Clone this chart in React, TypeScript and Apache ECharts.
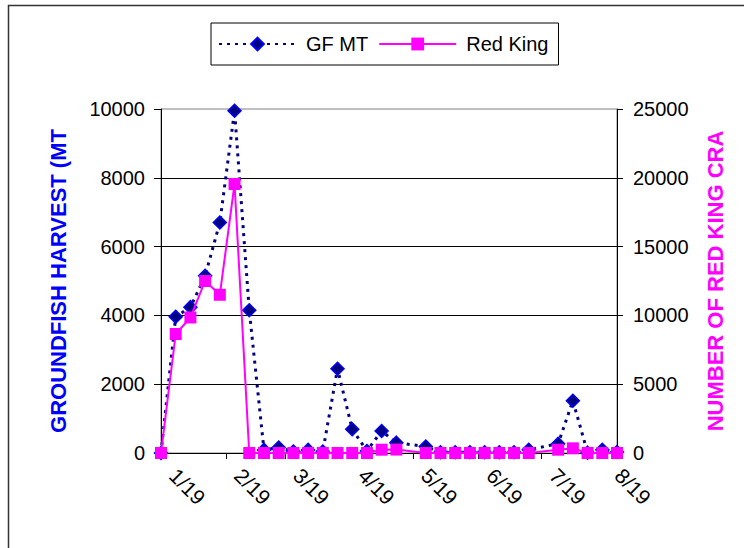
import React, { useEffect, useRef } from "react";
import * as echarts from "echarts";

// Weekly observation dates
const dates = [
  "2019-01-01", "2019-01-08", "2019-01-15", "2019-01-22", "2019-01-29",
  "2019-02-05", "2019-02-12", "2019-02-19", "2019-02-26", "2019-03-05",
  "2019-03-12", "2019-03-19", "2019-03-26", "2019-04-02", "2019-04-09",
  "2019-04-16", "2019-04-23", "2019-05-07", "2019-05-14", "2019-05-21",
  "2019-05-28", "2019-06-04", "2019-06-11", "2019-06-18", "2019-06-25",
  "2019-07-09", "2019-07-16", "2019-07-23", "2019-07-30", "2019-08-06",
];

// Groundfish harvest (MT) – left axis
const gfMt = [
  0, 3960, 4240, 5150, 6700,
  9950, 4150, 90, 160, 45,
  90, 45, 2450, 690, 60,
  640, 300, 190, 20, 20,
  20, 20, 20, 20, 95,
  270, 1520, 10, 95, 30,
];

// Number of red king crab – right axis
const redKing = [
  0, 8650, 9850, 12500, 11500,
  19550, 0, 0, 0, 0,
  0, 0, 0, 0, 0,
  240, 250, 0, 0, 0,
  0, 0, 0, 0, 0,
  240, 340, 0, 0, 0,
];

const tickDates = [
  "2019-01-01", "2019-02-01", "2019-03-01", "2019-04-01",
  "2019-05-01", "2019-06-01", "2019-07-01", "2019-08-01",
];
const tickLabels = ["1/19", "2/19", "3/19", "4/19", "5/19", "6/19", "7/19", "8/19"];

const FONT = "'Liberation Sans', Arial, sans-serif";

const dayOf = (s: string) =>
  Math.round((Date.parse(s + "T00:00:00Z") - Date.parse(dates[0] + "T00:00:00Z")) / 86400000);

export default function App() {
  const ref = useRef<HTMLDivElement>(null);

  useEffect(() => {
    if (!ref.current) return;
    const chart = echarts.init(ref.current, null, { renderer: "svg" });
    const tickDays = tickDates.map(dayOf);
    const xDays = dates.map(dayOf);

    chart.setOption({
      animation: false,
      backgroundColor: "#ffffff",
      textStyle: { fontFamily: FONT },
      graphic: [
        {
          type: "rect",
          silent: true,
          z: -10,
          shape: { x: 8.5, y: 5.5, width: 800, height: 600 },
          style: { fill: "none", stroke: "#333333", lineWidth: 1.5 },
        },
      ],
      legend: {
        left: 211,
        top: 23,
        padding: [11, 10, 11, 7],
        borderColor: "#000000",
        borderWidth: 1,
        itemWidth: 77,
        itemHeight: 16,
        itemGap: 10,
        textStyle: { fontSize: 20, color: "#000000", fontFamily: FONT, padding: [0, 0, 0, 5] },
        data: ["GF MT", "Red King"],
      },
      grid: {
        left: 161,
        right: 127,
        top: 109,
        bottom: 95,
        containLabel: false,
        show: true,
        borderColor: "#808080",
        borderWidth: 1,
        backgroundColor: "transparent",
      },
      xAxis: {
        type: "value",
        min: 0,
        max: xDays[xDays.length - 1],
        splitLine: { show: false },
        axisLine: { show: true, onZero: false, lineStyle: { color: "#000000", width: 1 } },
        axisTick: {
          show: true,
          customValues: tickDays,
          length: 6,
          lineStyle: { color: "#000000" },
        },
        axisLabel: {
          customValues: tickDays,
          rotate: -45,
          margin: 7,
          padding: [0, 0, 0, 17],
          fontSize: 21,
          color: "#000000",
          fontFamily: FONT,
          formatter: (v: number) => {
            const i = tickDays.indexOf(v);
            return i >= 0 ? tickLabels[i] : "";
          },
        },
      },
      yAxis: [
        {
          type: "value",
          position: "left",
          min: 0,
          max: 10000,
          interval: 2000,
          name: "GROUNDFISH HARVEST (MT",
          nameLocation: "middle",
          nameRotate: 90,
          nameGap: 92,
          nameTextStyle: { color: "#0000FF", fontWeight: "bold", fontSize: 22, fontFamily: FONT },
          axisLine: { show: true, lineStyle: { color: "#000000", width: 1 } },
          axisTick: { show: true, length: 7, lineStyle: { color: "#000000" } },
          axisLabel: {
            fontSize: 20,
            color: "#000000",
            margin: 16,
            fontFamily: FONT,
            formatter: (v: number) => String(v),
          },
          splitLine: { show: true, showMaxLine: false, lineStyle: { color: "#000000", width: 1 } },
        },
        {
          type: "value",
          position: "right",
          min: 0,
          max: 25000,
          interval: 5000,
          name: "NUMBER OF RED KING CRA",
          nameLocation: "middle",
          nameRotate: 90,
          nameGap: 87,
          nameTextStyle: { color: "#FF00FF", fontWeight: "bold", fontSize: 22, fontFamily: FONT },
          axisLine: { show: true, lineStyle: { color: "#000000", width: 1 } },
          axisTick: { show: true, length: 6, lineStyle: { color: "#000000" } },
          axisLabel: {
            fontSize: 20,
            color: "#000000",
            margin: 16,
            fontFamily: FONT,
            formatter: (v: number) => String(v),
          },
          splitLine: { show: false },
        },
      ],
      series: [
        {
          name: "GF MT",
          type: "line",
          yAxisIndex: 0,
          data: xDays.map((d, i) => [d, gfMt[i]]),
          symbol: "diamond",
          symbolSize: 13,
          lineStyle: { color: "#000080", width: 3, type: [3, 5] },
          itemStyle: { color: "#000080", borderColor: "#0000FF", borderWidth: 1.5 },
          z: 2,
        },
        {
          name: "Red King",
          type: "line",
          yAxisIndex: 1,
          data: xDays.map((d, i) => [d, redKing[i]]),
          symbol: "rect",
          symbolSize: 12,
          lineStyle: { color: "#FF00FF", width: 2, type: "solid" },
          itemStyle: { color: "#FF00FF" },
          z: 3,
        },
      ],
    });

    return () => chart.dispose();
  }, []);

  return (
    <div
      ref={ref}
      style={{ position: "absolute", left: 0, top: 0, width: 744, height: 548 }}
    />
  );
}
